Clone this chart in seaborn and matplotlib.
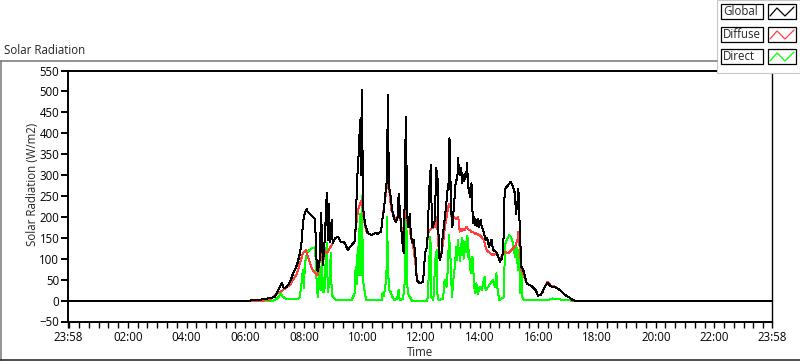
import matplotlib
matplotlib.use("Agg")
import matplotlib.pyplot as plt
from matplotlib.lines import Line2D
from matplotlib.patches import Rectangle
import numpy as np
import seaborn as sns

# minutes after midnight, W/m2
global_t = [-2, 370, 396, 411, 421, 427, 431, 435, 439, 445, 452, 458, 466, 472, 476, 478, 482, 486, 488, 492,
            499, 503, 505, 507, 509, 513, 515, 517, 519, 523, 525, 527, 529, 531, 533, 537, 539, 544, 550, 556,
            560, 564, 570, 578, 584, 586, 589, 591, 593, 595, 597, 598, 599, 601, 605, 611, 619, 625, 631, 638,
            642, 644, 646, 650, 652, 654, 656, 660, 662, 666, 668, 672, 674, 678, 683, 685, 687, 689, 691, 693,
            697, 699, 703, 705, 709, 711, 717, 724, 728, 732, 734, 736, 740, 742, 744, 748, 751, 754, 756, 758,
            762, 764, 768, 773, 775, 776, 778, 780, 782, 784, 787, 791,
            794, 796, 797, 798, 799, 801, 803, 804, 805, 807, 808, 809, 811, 812, 814, 815, 816, 818, 820, 821, 823,
            826, 828, 830, 831, 833, 835, 837, 839, 840, 842, 844, 847,
            852, 855, 859, 864, 867, 873, 878, 881, 885, 888, 891, 895, 898, 903, 907, 912, 914, 917, 919, 922,
            925, 929, 936, 942, 948, 955, 959, 965, 969, 973, 979, 985, 994, 1004, 1014, 1024, 1030, 1034, 1438]
global_v = [0, 0, 3, 6, 9, 25, 33, 42, 29, 33, 45, 65, 85, 113, 145, 185, 209, 219, 212, 207,
            200, 195, 120, 73, 71, 105, 210, 160, 85, 150, 206, 258, 145, 232, 140, 192, 137, 149, 152, 140,
            141, 137, 121, 133, 141, 176, 288, 328, 368, 431, 300, 440, 503, 224, 185, 161, 157, 161, 160, 165,
            208, 212, 248, 288, 491, 270, 264, 224, 208, 192, 188, 200, 256, 192, 121, 113, 328, 440, 224, 176,
            208, 153, 137, 145, 97, 49, 41, 45, 113, 129, 169, 256, 324, 176, 176, 192, 316, 288, 121, 97,
            113, 153, 192, 248, 280, 264, 388, 288, 208, 176, 224, 288,
            290, 340, 305, 325, 300, 318, 304, 282, 300, 285, 296, 290, 305, 295, 328, 300, 272, 265, 248, 270, 280,
            185, 200, 180, 195, 192, 178, 195, 175, 185, 192, 175, 169,
            145, 150, 129, 145, 121, 117, 105, 93, 100, 121, 264, 272, 276, 284, 276, 256, 208, 232, 268, 169,
            81, 73, 41, 37, 33, 24, 12, 14, 22, 33, 43, 34, 32, 25, 14, 7, 1, 0, 0]

diffuse_t = [-2, 395, 396, 411, 427, 437, 452, 466, 472, 478, 484, 488, 496, 503, 509, 515, 519, 523, 527, 533,
             539, 544, 550, 556, 560, 564, 570, 578, 584, 586, 591, 595, 598, 600, 603, 608, 611, 619, 625, 631,
             638, 642, 648, 651, 654, 656, 659, 663, 668, 673, 678, 682, 687, 689, 691, 696, 699, 704, 709, 712,
             717, 724, 728, 732, 734, 738, 741, 748, 752, 756, 758, 765, 768, 773, 777, 780, 783, 786, 791, 796,
             799, 801, 803, 806, 809, 813, 816, 820, 823, 826, 829, 833, 836, 840,
             848, 854, 861, 867, 874, 881, 887, 891, 898, 905, 912, 917, 919,
             922, 925, 929, 936, 942, 948, 955, 959, 965, 969, 973, 979, 985, 994, 1004, 1014, 1024, 1030, 1034, 1438]
diffuse_v = [-2, -2, 0, 3, 18, 25, 38, 65, 89, 113, 120, 105, 78, 65, 61, 121, 88, 120, 113, 125,
             137, 149, 152, 140, 141, 137, 121, 133, 141, 169, 216, 232, 240, 224, 192, 165, 161, 157, 161, 160,
             165, 208, 256, 288, 280, 248, 216, 208, 188, 204, 192, 153, 208, 232, 190, 176, 153, 129, 81, 49,
             41, 45, 113, 129, 160, 169, 172, 176, 200, 121, 97, 137, 169, 208, 232, 224, 192, 200, 196, 200,
             165, 172, 166, 172, 168, 176, 170, 169, 163, 165, 160, 161, 158, 157,
             145, 121, 113, 109, 113, 97, 109, 117, 113, 121, 129, 145, 165,
             121, 73, 65, 41, 37, 33, 24, 12, 14, 22, 33, 45, 36, 33, 25, 14, 7, 0, -2, -2]

direct_t = [-2, 417, 427, 433, 437, 445, 468, 472, 476, 478, 480, 482, 484, 488, 496, 503, 507, 509, 513, 515,
            517, 519, 522, 525, 527, 529, 533, 535, 537, 539, 547, 578, 584, 586, 589, 590, 592, 593, 595, 597,
            599, 601, 605, 608, 640, 641, 644, 646, 649, 650, 652, 654, 658, 661, 666, 671, 674, 676, 683, 687,
            689, 690, 691, 693, 697, 701, 732, 734, 736, 739, 741, 745, 749, 752, 753, 756, 765, 768, 772, 775,
            777, 780, 783, 786, 789,
            792, 793, 794, 796, 797, 799, 800, 801, 803, 804, 806, 807, 809, 811, 813, 814, 816, 817, 818,
            820, 822, 825, 828, 830, 833,
            836, 840, 844, 847, 850, 852, 857, 862, 867, 871, 874, 876, 880, 890, 891, 895, 900, 905, 908, 912,
            915, 918, 921, 923, 925, 927, 930, 963, 981, 989, 1000, 1010, 1030, 1438]
direct_v = [0, 0, 6, 18, 9, 3, 3, 9, 49, 73, 30, 81, 101, 117, 125, 127, 25, 9, 81, 25,
            105, 20, 21, 105, 137, 20, 49, 113, 20, 9, 1, 2, 17, 81, 40, 129, 60, 145, 208, 60,
            250, 49, 17, 1, 2, 17, 10, 33, 49, 200, 100, 25, 20, 9, 1, 5, 25, 2, 3, 49,
            200, 176, 49, 17, 9, 0, 0, 9, 81, 153, 9, 1, 97, 121, 17, 1, 5, 49, 33, 81,
            157, 105, 9, 49, 81,
            129, 100, 97, 145, 110, 120, 95, 135, 110, 150, 130, 100, 140, 115, 120, 155, 145, 100, 120,
            81, 65, 105, 49, 17, 41,
            15, 33, 25, 41, 57, 25, 33, 41, 49, 33, 65, 30, 1, 9, 129, 145, 157, 149, 137, 105,
            129, 73, 121, 17, 73, 9, 1, 1, 2, 5, 4, 1, 0, 0]

series_names = ["Global", "Diffuse", "Direct"]
series_colors = ["#000000", "#ff4040", "#00ff00"]

tick_pos = [-2, 120, 240, 360, 480, 600, 720, 840, 960, 1080, 1200, 1320, 1438]
tick_lab = ["23:58", "02:00", "04:00", "06:00", "08:00", "10:00", "12:00",
            "14:00", "16:00", "18:00", "20:00", "22:00", "23:58"]

assert len(global_t) == len(global_v)
assert len(diffuse_t) == len(diffuse_v)
assert len(direct_t) == len(direct_v)

sns.set_style("white")
plt.rcParams["font.family"] = ["Open Sans", "DejaVu Sans"]
plt.rcParams["font.size"] = 8.3

W, H = 800, 361
fig = plt.figure(figsize=(8, 3.61), dpi=100)
fig.patch.set_facecolor("white")


def fx(px):
    return px / W


def fy(py):
    return 1 - py / H


ax = fig.add_axes([fx(68.3), fy(321.5), fx(772 - 68.3), (321.5 - 70.5) / H])

# draw order: direct under diffuse under global, 1 px aliased lines
for t, v, c in [(direct_t, direct_v, series_colors[2]),
                (diffuse_t, diffuse_v, series_colors[1]),
                (global_t, global_v, series_colors[0])]:
    sns.lineplot(x=np.array(t), y=np.array(v), ax=ax, color=c, lw=0.72,
                 estimator=None, sort=False, antialiased=False)

ax.set_xlim(-2, 1438)
ax.set_ylim(-50, 550)
ax.set_yticks(np.arange(-50, 551, 50))
ax.set_xticks(tick_pos)
ax.set_xticklabels(tick_lab)
ax.set_xticks(np.arange(0, 1440, 20), minor=True)
ax.set_xlabel("")
ax.set_ylabel("")

for s in ax.spines.values():
    s.set_visible(True)
    s.set_color("black")
    s.set_linewidth(1.4)
ax.spines["right"].set_linewidth(1.0)

ax.tick_params(axis="y", which="major", direction="out", length=5, width=1.4,
               colors="black", labelsize=8.3, pad=1.5, left=True)
ax.tick_params(axis="x", which="both", direction="out", length=4, width=1.0,
               colors="black", labelsize=8.3, pad=3, bottom=True)

# panel frame and captions
fig.text(fx(4), fy(50), "Solar Radiation", ha="left", va="center", fontsize=8.3)
fig.text(fx(32), fy(184), "Solar Radiation (W/m2)", ha="center", va="center",
         rotation=90, fontsize=8.3)
fig.text(fx(420), fy(353), "Time", ha="center", va="center", fontsize=8.3)

fig.add_artist(Line2D([fx(0), fx(717)], [fy(61), fy(61)], color="#808080", lw=1.2))
fig.add_artist(Line2D([fx(0.6), fx(0.6)], [fy(61), fy(360)], color="#808080", lw=1.2))
fig.add_artist(Line2D([fx(0), fx(800)], [fy(359.5), fy(359.5)], color="#303030", lw=1.2))

# legend panel
fig.add_artist(Rectangle((fx(717), fy(73)), fx(83), 73 / H, facecolor="white",
                         edgecolor="#c8c8c8", lw=0.8))
row_tops = [4, 27, 49]
for name, col, top in zip(series_names, series_colors, row_tops):
    fig.add_artist(Rectangle((fx(721), fy(top + 15)), fx(42), 15 / H, facecolor="white",
                             edgecolor="black", lw=0.9))
    fig.text(fx(723), fy(top + 7.5), name, ha="left", va="center", fontsize=8.3)
    fig.add_artist(Rectangle((fx(768), fy(top + 15)), fx(28), 15 / H, facecolor="white",
                             edgecolor="black", lw=0.9))
    zx = [770, 777, 785, 794]
    zy = [top + 12, top + 4, top + 12, top + 3]
    fig.add_artist(Line2D([fx(p) for p in zx], [fy(p) for p in zy], color=col, lw=0.9))

fig.savefig("out.png", dpi=100)
